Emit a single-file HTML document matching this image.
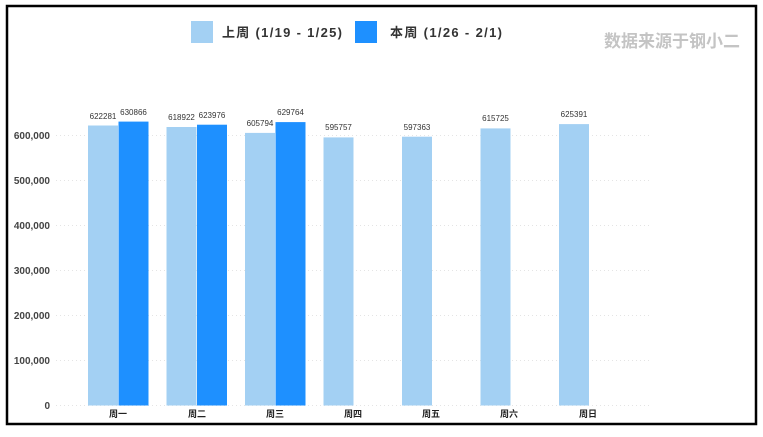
<!DOCTYPE html>
<html><head><meta charset="utf-8"><style>
body{margin:0;background:#fff;width:763px;height:432px;overflow:hidden}
</style></head><body>
<svg width="763" height="432" xmlns="http://www.w3.org/2000/svg" font-family="Liberation Sans, Noto Sans CJK SC, sans-serif">
<rect x="0" y="0" width="763" height="432" fill="#fff"/>
<rect x="7" y="6" width="749" height="418" fill="none" stroke="#000" stroke-width="2.5"/>
<g stroke="#e4e4e4" stroke-dasharray="1,3">
<line x1="56" x2="650" y1="135.5" y2="135.5"/><line x1="56" x2="650" y1="180.5" y2="180.5"/>
<line x1="56" x2="650" y1="225.5" y2="225.5"/><line x1="56" x2="650" y1="270.5" y2="270.5"/>
<line x1="56" x2="650" y1="315.5" y2="315.5"/><line x1="56" x2="650" y1="360.5" y2="360.5"/>
<line x1="56" x2="650" y1="405.5" y2="405.5"/>
</g>
<g font-size="10" font-weight="bold" fill="#444" text-anchor="end">
<text x="50" y="139">600,000</text><text x="50" y="184">500,000</text><text x="50" y="229">400,000</text>
<text x="50" y="274">300,000</text><text x="50" y="319">200,000</text><text x="50" y="364">100,000</text>
<text x="50" y="409">0</text>
</g>
<g fill="#a3d0f3">
<rect x="88" y="125.5" width="30" height="280"/>
<rect x="166.5" y="127" width="30" height="278.5"/>
<rect x="245" y="132.9" width="30" height="272.6"/>
<rect x="323.5" y="137.4" width="30" height="268.1"/>
<rect x="402" y="136.7" width="30" height="268.8"/>
<rect x="480.5" y="128.4" width="30" height="277.1"/>
<rect x="559" y="124.1" width="30" height="281.4"/>
</g>
<g fill="#1e90ff">
<rect x="118.5" y="121.6" width="30" height="283.9"/>
<rect x="197" y="124.7" width="30" height="280.8"/>
<rect x="275.5" y="122.1" width="30" height="283.4"/>
</g>
<g font-size="8" fill="#333" text-anchor="middle">
<text x="103" y="119">622281</text><text x="133.5" y="115">630866</text>
<text x="181.5" y="120">618922</text><text x="212" y="118">623976</text>
<text x="260" y="126">605794</text><text x="290.5" y="115">629764</text>
<text x="338.5" y="130">595757</text><text x="417" y="130">597363</text>
<text x="495.5" y="121">615725</text><text x="574" y="117">625391</text>
</g>
<g font-size="9" font-weight="bold" fill="#222" text-anchor="middle">
<text x="118" y="417">周一</text><text x="197" y="417">周二</text><text x="275" y="417">周三</text>
<text x="353" y="417">周四</text><text x="431" y="417">周五</text><text x="509" y="417">周六</text><text x="588" y="417">周日</text>
</g>
<rect x="191" y="21" width="22" height="22" fill="#a3d0f3"/>
<text x="222" y="37" font-size="13" font-weight="bold" fill="#333" textLength="120" lengthAdjust="spacing">上周 (1/19 - 1/25)</text>
<rect x="355" y="21" width="22" height="22" fill="#1e90ff"/>
<text x="390" y="37" font-size="13" font-weight="bold" fill="#333" textLength="112" lengthAdjust="spacing">本周 (1/26 - 2/1)</text>
<text x="604" y="47" font-size="17" font-weight="bold" fill="#c4c4c4">数据来源于钢小二</text>
</svg>
</body></html>
